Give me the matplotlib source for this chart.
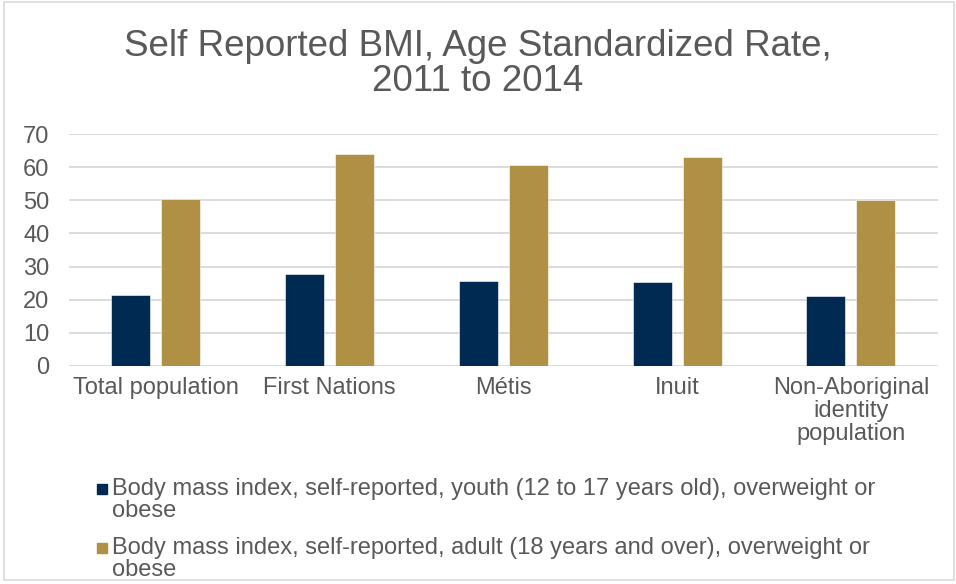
import matplotlib.pyplot as plt
import numpy as np
from matplotlib.patches import Rectangle

categories = ['Total population', 'First Nations', 'Métis', 'Inuit',
              'Non-Aboriginal\nidentity\npopulation']
youth = [21.5, 27.8, 25.5, 25.2, 21.1]
adult = [50.4, 64.0, 60.6, 63.0, 50.1]
series_labels = [
    'Body mass index, self-reported, youth (12 to 17 years old), overweight or\nobese',
    'Body mass index, self-reported, adult (18 years and over), overweight or\nobese',
]
colors = ['#012A52', '#AF9044']
text_color = '#595959'
grid_color = '#D9D9D9'

plt.rcParams['font.family'] = ['Liberation Sans', 'DejaVu Sans']

W, H = 956, 584
fig = plt.figure(figsize=(W / 100, H / 100), dpi=100)
ax = fig.add_axes([69 / W, 1 - 365.7 / H, (937.7 - 69) / W, (365.7 - 134.3) / H])

x = np.arange(len(categories))
bw = 0.225
off = 0.144
ax.bar(x - off, youth, bw, color=colors[0], edgecolor='white', linewidth=0.4, zorder=3)
ax.bar(x + off, adult, bw, color=colors[1], edgecolor='white', linewidth=0.4, zorder=3)

ax.set_xlim(-0.5, len(categories) - 0.5)
ax.set_ylim(0, 70)
ax.set_yticks(range(0, 71, 10))
ax.set_xticks(x)
ax.set_xticklabels(categories, linespacing=1.05)
ax.yaxis.grid(True, color=grid_color, linewidth=1.3, zorder=0)
ax.set_axisbelow(True)
for s in ['top', 'right', 'left', 'bottom']:
    ax.spines[s].set_visible(False)
ax.tick_params(axis='both', length=0, labelsize=17, labelcolor=text_color)
ax.tick_params(axis='y', pad=14)
ax.tick_params(axis='x', pad=8)

# title
fig.text(0.5, 1 - 64 / H, 'Self Reported BMI, Age Standardized Rate,\n2011 to 2014',
         ha='center', va='center', fontsize=26.5, color=text_color, linespacing=0.97)

# legend
for i, (lab, c) in enumerate(zip(series_labels, colors)):
    yc = 489 + i * 59
    fig.patches.append(Rectangle((97 / W, 1 - (yc + 5) / H), 10 / W, 10 / H,
                                 transform=fig.transFigure, color=c, figure=fig))
    fig.text(112 / W, 1 - (yc + 11) / H, lab, ha='left', va='center',
             fontsize=17, color=text_color, linespacing=0.95)

# outer border
fig.patches.append(Rectangle((4 / W, 4 / H), (W - 6) / W, (H - 6) / H,
                             transform=fig.transFigure, fill=False,
                             edgecolor=grid_color, linewidth=1.2, figure=fig))

fig.savefig('out.png', dpi=100)
